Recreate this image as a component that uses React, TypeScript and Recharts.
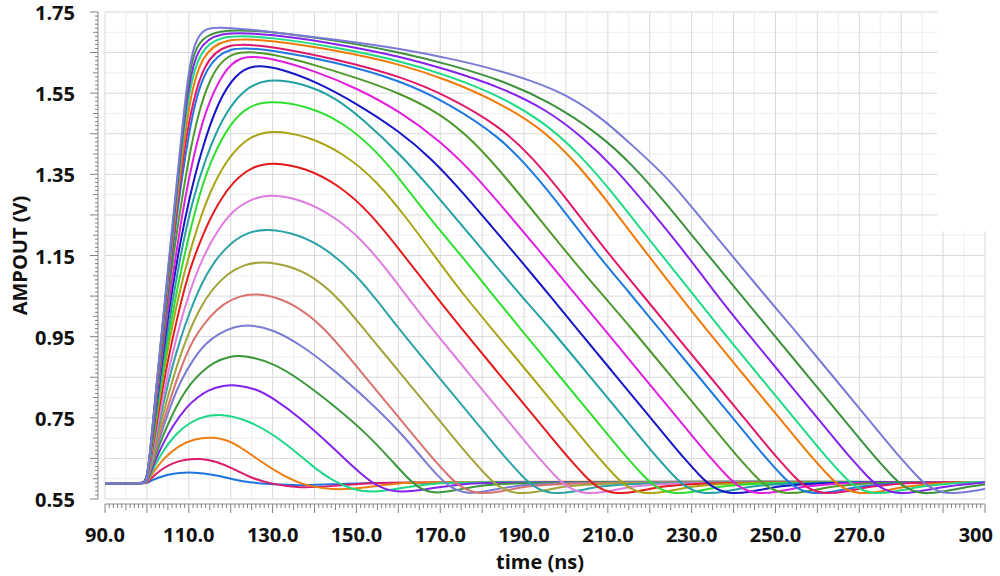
import React from 'react';
import { LineChart, Line, XAxis, YAxis, CartesianGrid, ReferenceArea } from 'recharts';

type Pt = [number, number];

// axis labels
const xTickValues = [90, 110, 130, 150, 170, 190, 210, 230, 250, 270, 300];
const xTickLabels = ['90.0', '110.0', '130.0', '150.0', '170.0', '190.0', '210.0', '230.0', '250.0', '270.0', '300'];
const yTickValues = [0.55, 0.75, 0.95, 1.15, 1.35, 1.55, 1.75];
const yTickLabels = ['0.55', '0.75', '0.95', '1.15', '1.35', '1.55', '1.75'];

// AMPOUT traces, [time ns, volts], smallest pulse first
const w01: Pt[] = [[90, .589], [99, .589], [100, .589], [101.1, .596], [102.8, .603], [105, .610], [107.7, .6145], [111, .616], [116, .610], [120.6, .598], [124.6, .591], [128.6, .587], [136.5, .583], [144.4, .586], [152.5, .590], [170, .591], [300, .591]];
const w02: Pt[] = [[90, .589], [99, .589], [100, .589], [101.3, .604], [103.2, .621], [105.7, .637], [108.9, .647], [112.7, .650], [116.5, .643], [120.6, .625], [124.6, .603], [129.2, .588], [136.5, .576], [144.4, .582], [152.5, .590], [170, .592], [300, .592]];
const w03: Pt[] = [[90, .589], [99, .589], [100, .589], [101.6, .618], [104, .650], [107.2, .679], [111.1, .698], [115.9, .704], [120.6, .690], [124.6, .661], [131, .616], [136.5, .586], [144.4, .571], [152.5, .578], [160.5, .591], [175, .593], [300, .592]];
const w04: Pt[] = [[90, .589], [99, .589], [100, .589], [101.8, .632], [104.5, .680], [108, .723], [112.5, .752], [117.8, .761], [124.6, .743], [132.5, .694], [139.7, .628], [144.4, .595], [149, .573], [154, .565], [160.5, .577], [168, .589], [180, .593], [300, .592]];
const w05: Pt[] = [[90, .589], [99, .589], [100, .589], [102, .646], [104, .690], [106, .728], [109.5, .778], [112, .800], [114.7, .819], [118, .829], [121, .832], [126, .822], [130.2, .798], [136.5, .751], [144.4, .677], [148.5, .636], [152, .604], [155.5, .578], [160.4, .564], [168.3, .577], [176, .589], [190, .593], [300, .592]];
const w06: Pt[] = [[90, .589], [99, .589], [100, .589], [102, .657], [104, .710], [106, .757], [108, .797], [110.4, .835], [113, .863], [116.1, .888], [119.5, .901], [123, .905], [130, .886], [136.5, .845], [144.4, .782], [152.4, .712], [158.8, .640], [161.8, .606], [164.8, .577], [168.5, .563], [173, .570], [180, .585], [192, .593], [300, .592]];
const w07: Pt[] = [[90, .589], [99, .589], [100, .589], [102, .665], [104, .730], [106, .790], [108, .840], [111, .894], [114, .934], [117.2, .958], [121, .975], [124.5, .980], [130, .968], [136.5, .932], [144.4, .870], [152.4, .797], [160.4, .716], [166.5, .641], [169.5, .606], [172.5, .577], [176.5, .562], [181, .569], [188, .584], [200, .592], [300, .592]];
const w08: Pt[] = [[90, .589], [99, .589], [100, .589], [102, .670], [104, .745], [106, .810], [108, .870], [110, .920], [111.7, .954], [115, 1.0], [118.2, 1.031], [122, 1.050], [126, 1.057], [132, 1.045], [137.5, 1.013], [142.9, .966], [150.9, .866], [158.9, .766], [164.9, .691], [168.9, .642], [171.9, .608], [174.9, .578], [178.9, .562], [183.9, .567], [190.9, .582], [200.9, .592], [300, .592]];
const w09: Pt[] = [[90, .589], [99, .589], [100, .589], [102, .680], [104, .765], [106, .840], [108, .905], [110, .960], [112.4, 1.016], [115.5, 1.067], [119.3, 1.106], [123, 1.127], [127.5, 1.136], [134, 1.125], [140, 1.097], [146, 1.042], [152, .966], [160, .866], [168, .766], [174, .691], [178, .642], [181, .608], [184, .578], [188, .562], [193, .567], [200, .582], [210, .592], [300, .592]];
const w10: Pt[] = [[90, .589], [99, .589], [100, .589], [102, .690], [104, .790], [106, .875], [108, .945], [110, 1.005], [112.9, 1.079], [116, 1.135], [120, 1.182], [124, 1.207], [128.6, 1.217], [136, 1.203], [143, 1.166], [150, 1.102], [155, 1.038], [160.4, .966], [168.4, .866], [176.4, .766], [182.4, .691], [186.4, .642], [189.4, .608], [192.4, .578], [196.4, .562], [201.4, .567], [208.4, .582], [218.4, .592], [300, .592]];
const w11: Pt[] = [[90, .589], [99, .589], [100, .589], [102, .700], [104, .810], [106, .905], [108, .985], [110, 1.055], [113.2, 1.144], [117, 1.215], [120.6, 1.262], [125, 1.290], [129.4, 1.301], [137, 1.288], [145, 1.245], [152, 1.182], [158, 1.105], [163, 1.036], [168.3, .966], [176.3, .866], [184.3, .766], [190.3, .691], [194.3, .642], [197.3, .608], [200.3, .578], [204.3, .562], [209.3, .567], [216.3, .582], [226.3, .592], [300, .592]];
const w12: Pt[] = [[90, .589], [99, .589], [100, .589], [102, .715], [104, .840], [106, .940], [108, 1.030], [110, 1.110], [113.4, 1.205], [117, 1.280], [120.9, 1.336], [125, 1.368], [129.8, 1.381], [138, 1.366], [146, 1.322], [153, 1.258], [160, 1.168], [167, 1.075], [175.4, .966], [183.4, .866], [191.4, .766], [197.4, .691], [201.4, .642], [204.4, .608], [207.4, .578], [211.4, .562], [216.4, .567], [223.4, .582], [233.4, .592], [300, .592]];
const w13: Pt[] = [[90, .589], [99, .589], [100, .589], [102, .730], [104, .865], [106, .975], [108, 1.070], [110, 1.150], [113.4, 1.266], [117, 1.350], [120.9, 1.410], [125, 1.445], [129.8, 1.459], [138, 1.446], [147, 1.402], [155, 1.332], [162, 1.242], [168, 1.158], [175, 1.060], [182.6, .966], [190.6, .866], [198.6, .766], [204.6, .691], [208.6, .642], [211.6, .608], [214.6, .578], [218.6, .562], [223.6, .567], [230.6, .582], [240.6, .592], [300, .592]];
const w14: Pt[] = [[90, .589], [99, .589], [100, .589], [102, .740], [104, .880], [106, 1.0], [108, 1.110], [111.9, 1.280], [115, 1.380], [120, 1.480], [124.5, 1.520], [129.4, 1.531], [138, 1.520], [147, 1.478], [155, 1.405], [160.4, 1.338], [167, 1.248], [175, 1.150], [182, 1.060], [189.4, .966], [197.4, .866], [205.4, .766], [211.4, .691], [215.4, .642], [218.4, .608], [221.4, .578], [225.4, .562], [230.4, .567], [237.4, .582], [247.4, .592], [300, .592]];
const w15: Pt[] = [[90, .589], [99, .589], [100, .589], [102, .750], [104, .900], [106, 1.030], [108, 1.150], [110.7, 1.280], [114, 1.390], [118, 1.490], [123, 1.560], [128.6, 1.587], [137, 1.575], [145, 1.540], [152, 1.482], [160.4, 1.400], [168, 1.312], [175, 1.226], [182, 1.140], [189, 1.054], [196.6, .966], [204.6, .866], [212.6, .766], [218.6, .691], [222.6, .642], [225.6, .608], [228.6, .578], [232.6, .562], [237.6, .567], [244.6, .582], [254.6, .592], [300, .592]];
const w16: Pt[] = [[90, .589], [99, .589], [100, .589], [102, .760], [104, .925], [106, 1.065], [108, 1.185], [110, 1.286], [113, 1.410], [117, 1.530], [121, 1.595], [125.4, 1.622], [132, 1.610], [140, 1.580], [150, 1.525], [160.4, 1.455], [168, 1.388], [175, 1.310], [182, 1.225], [189, 1.140], [196, 1.053], [202.9, .966], [210.9, .866], [218.9, .766], [224.9, .691], [228.9, .642], [231.9, .608], [234.9, .578], [238.9, .562], [243.9, .567], [250.9, .582], [260.9, .592], [300, .592]];
const w17: Pt[] = [[90, .589], [99, .589], [100, .589], [102, .765], [104, .940], [106, 1.090], [107.5, 1.190], [109, 1.286], [111, 1.390], [114, 1.510], [118, 1.600], [122.2, 1.645], [130, 1.636], [140, 1.605], [150, 1.563], [160.4, 1.505], [170, 1.432], [178, 1.352], [185.3, 1.264], [193.3, 1.166], [201.3, 1.066], [209.3, .966], [217.3, .866], [225.3, .766], [231.3, .691], [235.3, .642], [238.3, .608], [241.3, .578], [245.3, .562], [250.3, .567], [257.3, .582], [267.3, .592], [300, .592]];
const w18: Pt[] = [[90, .589], [99, .589], [100, .589], [102, .770], [104, .950], [106, 1.130], [108.3, 1.286], [110, 1.390], [112, 1.490], [115, 1.590], [119.8, 1.659], [130, 1.647], [140, 1.620], [150, 1.588], [160.4, 1.550], [170, 1.500], [178, 1.432], [186, 1.338], [194, 1.236], [202, 1.134], [209, 1.050], [216, .966], [224, .866], [232, .766], [238, .691], [242, .642], [245, .608], [248, .578], [252, .562], [257, .567], [264, .582], [274, .592], [300, .592]];
const w19: Pt[] = [[90, .589], [99, .589], [100, .589], [101, .680], [102, .775], [104, .965], [106, 1.155], [107.6, 1.286], [109.5, 1.420], [111.5, 1.530], [114, 1.610], [119, 1.668], [130, 1.656], [145, 1.627], [160.4, 1.582], [172, 1.525], [184.3, 1.442], [192, 1.357], [200, 1.254], [207, 1.158], [215, 1.060], [222.5, .966], [230.5, .866], [238.5, .766], [244.5, .691], [248.5, .642], [251.5, .608], [254.5, .578], [258.5, .562], [263.5, .567], [270.5, .582], [280.5, .592], [300, .592]];
const w20: Pt[] = [[90, .589], [99, .589], [100, .589], [101, .682], [102, .780], [104, .975], [106, 1.170], [107.4, 1.286], [109, 1.420], [111, 1.530], [113.5, 1.620], [118.5, 1.677], [130, 1.665], [145, 1.634], [160.4, 1.592], [172, 1.542], [184.3, 1.468], [192, 1.392], [200, 1.292], [208, 1.182], [216.5, 1.075], [225.2, .966], [233.2, .866], [241.2, .766], [247.2, .691], [251.2, .642], [254.2, .608], [257.2, .578], [261.2, .562], [266.2, .567], [273.2, .582], [283.2, .592], [300, .592]];
const w21: Pt[] = [[90, .589], [99, .589], [100, .589], [101, .684], [102, .785], [104, .985], [106, 1.180], [107.2, 1.286], [108.8, 1.425], [110.5, 1.550], [113, 1.640], [118, 1.688], [130, 1.680], [145, 1.656], [160.4, 1.622], [172, 1.582], [184.3, 1.526], [195, 1.457], [203, 1.372], [210, 1.282], [218, 1.172], [226, 1.065], [233.6, .966], [241.6, .866], [249.6, .766], [255.6, .691], [259.6, .642], [262.6, .608], [265.6, .578], [269.6, .562], [274.6, .567], [281.6, .582], [291.6, .592], [300, .592]];
const w22: Pt[] = [[90, .589], [99, .589], [100, .589], [101, .686], [102, .790], [104, .995], [106, 1.190], [107, 1.286], [108.5, 1.430], [110.2, 1.565], [112.5, 1.650], [117, 1.695], [130, 1.688], [145, 1.663], [160.4, 1.630], [172, 1.593], [184.3, 1.543], [195, 1.477], [203, 1.402], [211, 1.307], [219, 1.200], [228, 1.085], [237.1, .966], [245.1, .866], [253.1, .766], [259.1, .691], [263.1, .642], [266.1, .608], [269.1, .578], [273.1, .562], [278.1, .567], [285.1, .582], [295.1, .592], [300, .592]];
const w23: Pt[] = [[90, .589], [99, .589], [100, .589], [101, .688], [102, .795], [104, 1.0], [106, 1.200], [106.9, 1.286], [108.3, 1.430], [110, 1.575], [112, 1.660], [116.5, 1.703], [130, 1.695], [145, 1.672], [160.4, 1.641], [172, 1.607], [184.3, 1.565], [195, 1.512], [204, 1.442], [212, 1.362], [220, 1.264], [228, 1.163], [235, 1.066], [242.7, .966], [250.7, .866], [258.7, .766], [264.7, .691], [268.7, .642], [271.7, .608], [274.7, .578], [278.7, .562], [283.7, .567], [290.7, .582], [300, .591]];
const w24: Pt[] = [[90, .589], [99, .589], [100, .589], [101, .690], [102, .800], [104, 1.005], [106, 1.210], [106.8, 1.286], [108.2, 1.430], [109.8, 1.580], [111.5, 1.670], [116, 1.709], [130, 1.702], [145, 1.680], [160.4, 1.651], [172, 1.621], [184.3, 1.583], [196, 1.530], [208, 1.449], [216, 1.372], [224, 1.277], [232, 1.175], [240, 1.075], [248.7, .966], [256.7, .866], [264.7, .766], [270.7, .691], [274.7, .642], [277.7, .608], [280.7, .578], [284.7, .562], [289.7, .567], [296.7, .582], [300, .586]];
const w25: Pt[] = [[90, .589], [99, .589], [100, .589], [101, .692], [102, .800], [104, 1.010], [106, 1.215], [106.7, 1.286], [108, 1.420], [109.5, 1.570], [111, 1.665], [113, 1.703], [115.8, 1.716], [130, 1.701], [145, 1.682], [160.4, 1.660], [175, 1.630], [184.3, 1.605], [192, 1.580], [200.2, 1.546], [208.1, 1.493], [216, 1.420], [224, 1.344], [230, 1.270], [238, 1.170], [246, 1.070], [254.6, .966], [262.6, .866], [270.6, .766], [276.6, .691], [280.6, .642], [283.6, .608], [286.6, .578], [290.6, .562], [295.6, .567], [300, .575]];

const traces = [w01, w02, w03, w04, w05, w06, w07, w08, w09, w10, w11, w12, w13, w14, w15, w16, w17, w18, w19, w20, w21, w22, w23, w24, w25];
const traceColors = [
  '#1f74e0', '#dc1c6c', '#ee7d12', '#1ed887', '#8424ea', '#3b973b', '#7b7bd4', '#d8736f', '#a3a33c',
  '#2ea3a6', '#e07ce0', '#e31b1b', '#a8a414', '#2fdf2f', '#22a0a4', '#1616c6', '#e01ee0', '#4e982c',
  '#1f78e0', '#e0176a', '#f07a06', '#1cdb85', '#8422ee', '#3c923c', '#7a7ad6',
];

// tick / grid positions
const xRulerTicks: number[] = [];
for (let t = 90; t <= 300; t += 1) xRulerTicks.push(t);
const yRulerTicks: number[] = [];
for (let i = 0; i <= 120; i++) yRulerTicks.push(Math.round((0.55 + i * 0.01) * 100) / 100);
const gridMajorX: number[] = [];
const gridMinorX: number[] = [];
for (let t = 90; t <= 300; t += 5) (t % 10 === 0 ? gridMajorX : gridMinorX).push(t);
const gridMajorY: number[] = [];
const gridMinorY: number[] = [];
for (let i = 0; i <= 24; i++) {
  const v = Math.round((0.55 + i * 0.05) * 100) / 100;
  (i % 2 === 0 ? gridMajorY : gridMinorY).push(v);
}

const FONT = '"Open Sans", "Noto Sans", sans-serif';

const XTick = (props: any) => {
  const { x, y, payload } = props;
  const v = Math.round(payload.value);
  const len = v % 10 === 0 ? 9 : v % 5 === 0 ? 6 : 4;
  const idx = xTickValues.indexOf(v);
  const last = v === 300;
  return (
    <g>
      <line x1={x} x2={x} y1={y + 5} y2={y + 5 + len} stroke="#808080" strokeWidth={1} />
      {idx >= 0 && (
        <text x={last ? x + 8 : x} y={y + 43} textAnchor={last ? 'end' : 'middle'}
          fontFamily={FONT} fontSize={20} fontWeight={700} fill="#111">
          {xTickLabels[idx]}
        </text>
      )}
    </g>
  );
};

const YTick = (props: any) => {
  const { x, y, payload } = props;
  const k = Math.round((payload.value - 0.55) * 100);
  const len = k % 10 === 0 ? 8 : k % 5 === 0 ? 5 : 3;
  const idx = yTickValues.findIndex((v) => Math.abs(v - payload.value) < 1e-6);
  return (
    <g>
      <line x1={x - 7 - len} x2={x - 7} y1={y} y2={y} stroke="#808080" strokeWidth={1} />
      {idx >= 0 && (
        <text x={x - 30} y={y + 8} textAnchor="end"
          fontFamily={FONT} fontSize={20} fontWeight={700} fill="#111">
          {yTickLabels[idx]}
        </text>
      )}
    </g>
  );
};

const XTitle = (props: any) => {
  const vb = props.viewBox || { x: 105, y: 499, width: 880, height: 77 };
  return (
    <text x={vb.x + vb.width / 2 - 5} y={vb.y + 70} textAnchor="middle"
      fontFamily={FONT} fontSize={20} fontWeight={700} fill="#111">
      time (ns)
    </text>
  );
};

const YTitle = (props: any) => {
  const vb = props.viewBox || { x: 0, y: 12, width: 105, height: 487 };
  const cx = vb.x + 27;
  const cy = vb.y + vb.height / 2;
  return (
    <text x={cx} y={cy} transform={`rotate(-90 ${cx} ${cy})`} textAnchor="middle"
      fontFamily={FONT} fontSize={20} fontWeight={700} fill="#111">
      AMPOUT (V)
    </text>
  );
};

export default function App() {
  return (
    <div style={{ position: 'absolute', left: 0, top: 0, width: 1000, height: 576, background: '#fff' }}>
      <LineChart width={1000} height={576} margin={{ top: 12, right: 15, bottom: 0, left: 0 }}>
        <CartesianGrid horizontalValues={gridMinorY} verticalValues={gridMinorX} stroke="#eeeeee" strokeWidth={1} />
        <CartesianGrid horizontalValues={gridMajorY} verticalValues={gridMajorX} stroke="#d9d9d9" strokeWidth={1} />
        <XAxis
          type="number"
          dataKey="t"
          domain={[90, 300]}
          allowDataOverflow
          ticks={xRulerTicks}
          interval={0}
          height={77}
          tickLine={false}
          tickSize={0}
          tickMargin={0}
          tick={<XTick />}
          axisLine={{ stroke: '#8a8a8a', transform: 'translate(0 5)' }}
          label={{ content: <XTitle /> } as any}
        />
        <YAxis
          type="number"
          domain={[0.55, 1.75]}
          allowDataOverflow
          ticks={yRulerTicks}
          interval={0}
          width={105}
          tickLine={false}
          tickSize={0}
          tickMargin={0}
          tick={<YTick />}
          axisLine={{ stroke: '#8a8a8a', transform: 'translate(-7 0)' }}
          label={{ content: <YTitle /> } as any}
        />
        <ReferenceArea x1={288.6} x2={300.6} y1={1.21} y2={1.76} fill="#ffffff" fillOpacity={1} stroke="none" ifOverflow="visible" />
        {traces.map((pts, i) => (
          <Line
            key={i}
            data={pts.map(([t, v]) => ({ t, v }))}
            dataKey="v"
            type="basis"
            stroke={traceColors[i]}
            strokeWidth={2}
            dot={false}
            activeDot={false}
            isAnimationActive={false}
          />
        ))}
      </LineChart>
    </div>
  );
}
